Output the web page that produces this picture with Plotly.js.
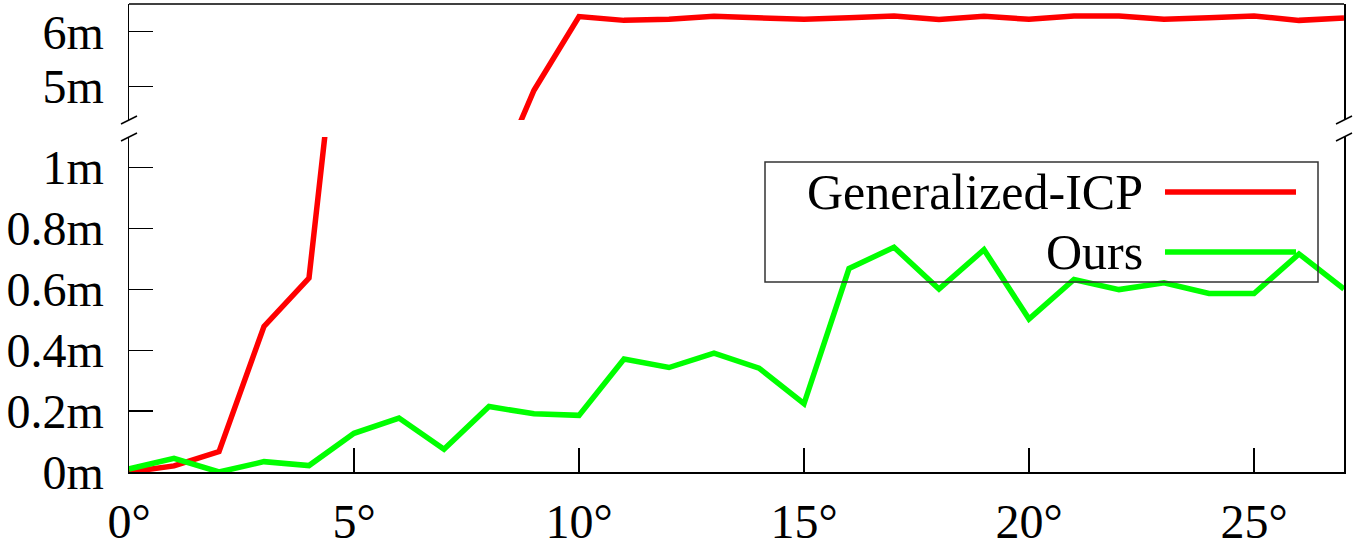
<!DOCTYPE html>
<html>
<head>
<meta charset="utf-8">
<script src="https://cdn.plot.ly/plotly-3.0.1.min.js"></script>
<style>html,body{margin:0;padding:0;background:#fff;}#chart{width:1354px;height:550px;}</style>
</head>
<body>
<div id="chart"></div>
<script>
// ---- data ----
const angles = [0,1,2,3,4,5,6,7,8,9,10,11,12,13,14,15,16,17,18,19,20,21,22,23,24,25,26,27];
const gicpValues = [0.0,0.02,0.067,0.478,0.637,1.96,2.3,2.65,3.0,4.93,6.28,6.21,6.23,6.285,6.255,6.23,6.26,6.29,6.225,6.285,6.23,6.29,6.29,6.23,6.26,6.29,6.21,6.255];
const oursValues = [0.01,0.045,0.0,0.034,0.021,0.127,0.177,0.075,0.215,0.191,0.186,0.371,0.343,0.39,0.341,0.224,0.668,0.738,0.601,0.73,0.502,0.632,0.599,0.621,0.586,0.586,0.716,0.601];
const seriesNames = ["Generalized-ICP", "Ours"];
const xTickVals = [0,5,10,15,20,25];
const xTickText = ["0°","5°","10°","15°","20°","25°"];
const yLowTickVals = [0,0.2,0.4,0.6,0.8,1];
const yLowTickText = ["0m","0.2m","0.4m","0.6m","0.8m","1m"];
const yHighTickVals = [5,6];
const yHighTickText = ["5m","6m"];

// ---- geometry (pixels) ----
const W = 1354, H = 550;
const L = 129, R = 1344, T = 4, B = 472;
const px = x => (x - L) / (R - L);
const py = y => (B - y) / (B - T);
const colors = ["#ff0000", "#00ff00"];
const FONT = {family: "Liberation Serif, Times New Roman, serif", size: 48, color: "#000"};
const LFONT = {family: "Liberation Serif, Times New Roman, serif", size: 50, color: "#000"};
const LW = 5.5;

const traces = [
  {x: angles, y: gicpValues, xaxis: "x", yaxis: "y", mode: "lines", name: seriesNames[0],
   line: {color: colors[0], width: LW}, showlegend: false},
  {x: angles, y: gicpValues, xaxis: "x", yaxis: "y2", mode: "lines", name: seriesNames[0],
   line: {color: colors[0], width: LW}, showlegend: false},
  {x: angles, y: oursValues, xaxis: "x", yaxis: "y", mode: "lines", name: seriesNames[1],
   line: {color: colors[1], width: LW}, showlegend: false}
];

const axisLine = {showline: true, linecolor: "#000", linewidth: 1.5, showgrid: false, zeroline: false};

const shapes = [];
const annotations = [];
// top border of upper panel
shapes.push({type: "line", xref: "paper", yref: "paper", x0: 0, x1: 1, y0: 1, y1: 1, line: {color: "#000", width: 1.5}});
// break marks
[L, R].forEach(cx => {
  [120, 137].forEach(cy => {
    shapes.push({type: "line", xref: "paper", yref: "paper",
      x0: px(cx - 8), x1: px(cx + 8), y0: py(cy + 4), y1: py(cy - 4),
      line: {color: "#000", width: 1.5}});
  });
});
// legend box
shapes.push({type: "rect", xref: "paper", yref: "paper", x0: px(765), x1: px(1318), y0: py(282), y1: py(162),
  line: {color: "#333", width: 1.5}, fillcolor: "rgba(0,0,0,0)"});
const legendRows = [192, 252];
seriesNames.forEach((nm, i) => {
  annotations.push({xref: "paper", yref: "paper", x: px(1145), y: py(legendRows[i]), xanchor: "right", yanchor: "middle",
    text: nm, showarrow: false, font: LFONT});
  shapes.push({type: "line", xref: "paper", yref: "paper", x0: px(1165), x1: px(1296),
    y0: py(legendRows[i]), y1: py(legendRows[i]), line: {color: colors[i], width: LW}});
});

const layout = {
  width: W, height: H,
  margin: {l: L, r: W - R, t: T, b: H - B, pad: 0},
  paper_bgcolor: "#fff", plot_bgcolor: "#fff",
  font: FONT,
  showlegend: false,
  xaxis: Object.assign({}, axisLine, {range: [0, 27], tickvals: xTickVals, ticktext: xTickText,
    ticks: "inside", ticklen: 24, tickwidth: 1.2, tickcolor: "#000", mirror: false, anchor: "y",
    ticklabelstandoff: 7, tickfont: FONT}),
  yaxis: Object.assign({}, axisLine, {domain: [0, py(137)], range: [0, 1.1], tickvals: yLowTickVals, ticktext: yLowTickText,
    ticks: "inside", ticklen: 24, tickwidth: 1.2, tickcolor: "#000", mirror: true, anchor: "x",
    ticklabelstandoff: 14, tickfont: FONT}),
  yaxis2: Object.assign({}, axisLine, {domain: [py(120), 1], range: [4.384, 6.51], tickvals: yHighTickVals, ticktext: yHighTickText,
    ticks: "inside", ticklen: 24, tickwidth: 1.2, tickcolor: "#000", mirror: true, anchor: "x",
    ticklabelstandoff: 14, tickfont: FONT}),
  shapes: shapes,
  annotations: annotations
};

Plotly.newPlot("chart", traces, layout, {staticPlot: true, displayModeBar: false});
</script>
</body>
</html>
